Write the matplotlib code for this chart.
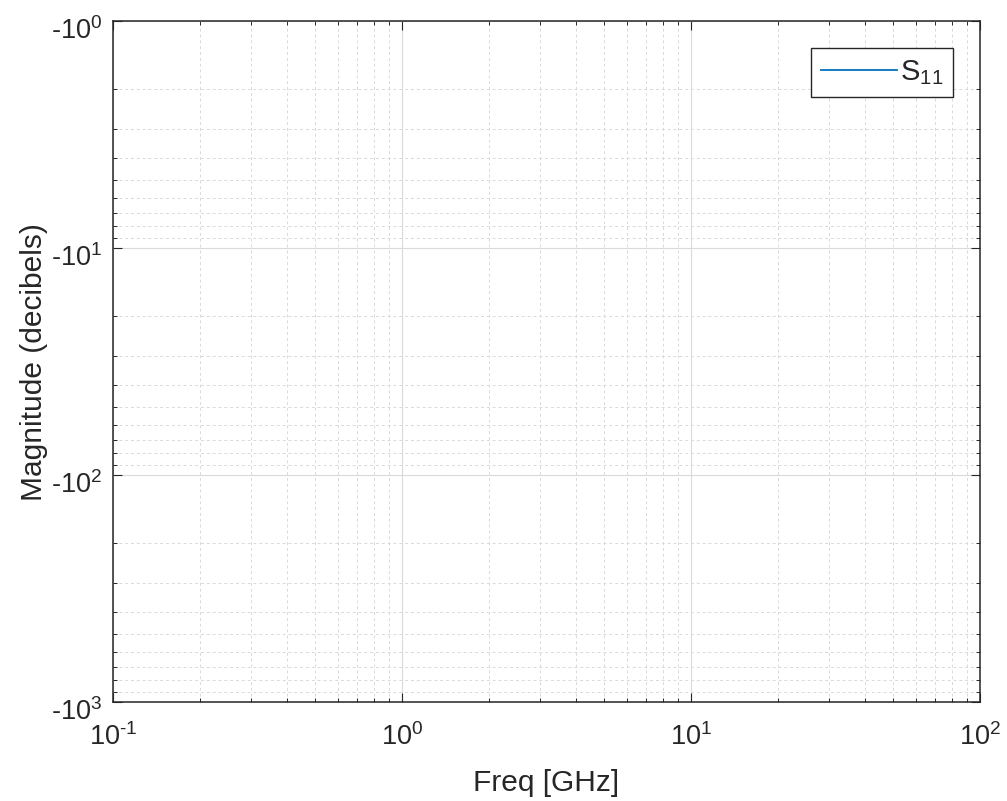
import numpy as np
import matplotlib
matplotlib.use('Agg')
import matplotlib.pyplot as plt
from matplotlib.ticker import LogLocator, FuncFormatter, NullFormatter
from matplotlib.transforms import ScaledTranslation

#===================================================================================================
# data: the S11 trace has no points inside the visible window
freq_ghz = []          # frequency [GHz]
s11_db = []            # magnitude [dB]

x_lim = [0.1, 100]     # GHz
y_lim = [-1000, -1]    # dB (negative log axis)

#===================================================================================================
plt.rcParams['font.family'] = ['Liberation Sans', 'DejaVu Sans']
plt.rcParams['mathtext.fontset'] = 'custom'
plt.rcParams['mathtext.rm'] = 'Liberation Sans'
plt.rcParams['mathtext.it'] = 'Liberation Sans'

txt_col = '#262626'


def exp_str(v):
    # exponent with a plain hyphen instead of the math minus sign
    e = round(np.log10(v))
    return ('\u2010%d' % -e) if e < 0 else '%d' % e


fig = plt.figure(figsize=(10.07, 8.01), dpi=100)
ax = fig.add_axes([0.1122, 0.1236, 0.861, 0.850])

# negative log axis: plot magnitude of the dB value, -1 at top
ax.plot(freq_ghz, -np.asarray(s11_db, dtype=float), color='#0072BD', lw=1.3,
        label=r'$\mathregular{S_{11}}$')

ax.set_xscale('log')
ax.set_yscale('log')
ax.set_xlim(x_lim)
ax.set_ylim(-y_lim[0], -y_lim[1])   # 1000 at bottom, 1 at top

ax.xaxis.set_major_locator(LogLocator(base=10, numticks=10))
ax.xaxis.set_minor_locator(LogLocator(base=10, subs=np.arange(2, 10), numticks=20))
ax.yaxis.set_major_locator(LogLocator(base=10, numticks=10))
ax.yaxis.set_minor_locator(LogLocator(base=10, subs=np.arange(2, 10), numticks=20))

ax.xaxis.set_major_formatter(FuncFormatter(lambda v, p: r'$\mathregular{10^{%s}}$' % exp_str(v)))
ax.yaxis.set_major_formatter(FuncFormatter(lambda v, p: r'-$\mathregular{10^{%s}}$' % exp_str(v)))
ax.xaxis.set_minor_formatter(NullFormatter())
ax.yaxis.set_minor_formatter(NullFormatter())

ax.tick_params(which='both', direction='in', top=True, right=True, colors=txt_col,
               labelcolor=txt_col, labelsize=19.5)
ax.tick_params(which='major', length=6.5, width=0.8)
ax.tick_params(which='minor', length=3, width=0.7)
ax.tick_params(axis='x', which='major', pad=15)
ax.tick_params(axis='y', which='major', pad=8)

for s in ax.spines.values():
    s.set_color(txt_col)
    s.set_linewidth(1.1)

ax.grid(which='major', color='#dadada', lw=0.8, ls='-')
ax.grid(which='minor', color='#d9d9d9', lw=0.7, ls=(0, (3, 3)))
ax.set_axisbelow(True)

ax.set_xlabel('Freq [GHz]', fontsize=21.5, color=txt_col, labelpad=13)
ax.set_ylabel('Magnitude (decibels)', fontsize=21.5, color=txt_col, labelpad=2)

leg = ax.legend(loc='upper right', bbox_to_anchor=(0.9689, 0.9604), borderaxespad=0,
                fontsize=21, fancybox=False, framealpha=1, edgecolor=txt_col,
                handlelength=2.6, handletextpad=0.1, borderpad=0.35)
leg.get_frame().set_linewidth(1.0)
leg.legend_handles[0].set_linewidth(1.3)
for t in leg.get_texts():
    t.set_color(txt_col)

# push y tick labels down a little (MATLAB centres the whole label incl. exponent)
fig.canvas.draw()
for tk in ax.yaxis.get_major_ticks():
    tk.label1.set_transform(tk.label1.get_transform() + ScaledTranslation(0, -5 / 72, fig.dpi_scale_trans))

fig.savefig('out.png', dpi=100)
